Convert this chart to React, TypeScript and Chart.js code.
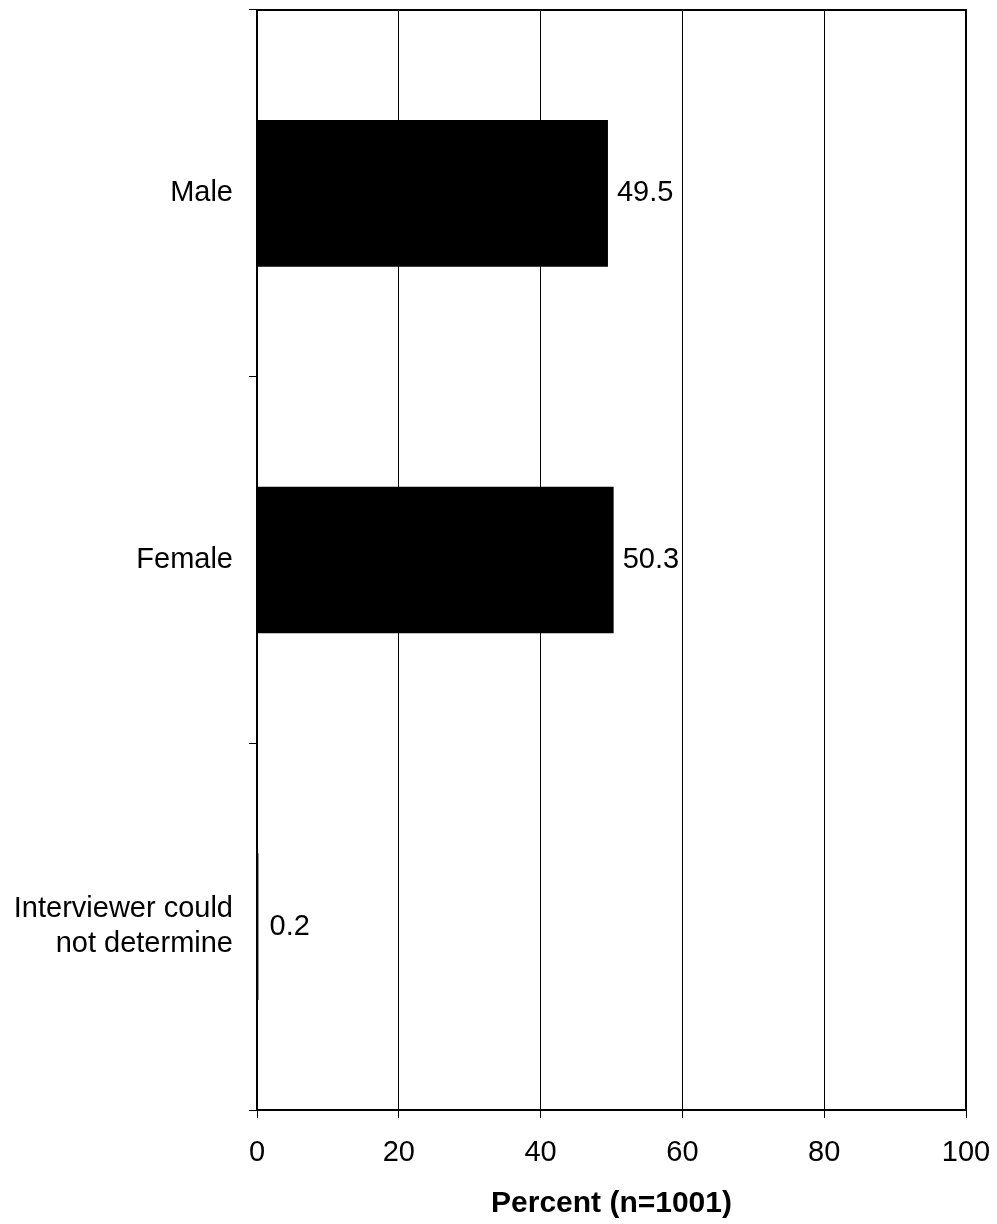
import React, { useEffect, useRef } from "react";
import { Chart, registerables } from "chart.js";

Chart.register(...registerables);

const categories: (string | string[])[] = ["Male", "Female", ["Interviewer could", "not determine"]];
const values: number[] = [49.5, 50.3, 0.2];
const valueLabels: string[] = ["49.5", "50.3", "0.2"];
const xTicks: number[] = [0, 20, 40, 60, 80, 100];
const xTitle = "Percent (n=1001)";

const FONT = "'Liberation Sans', Arial, sans-serif";

export default function App() {
  const ref = useRef<HTMLCanvasElement>(null);
  useEffect(() => {
    document.body.style.margin = "0";
    const canvas = ref.current!;
    const borderPlugin = {
      id: "frame",
      afterDatasetsDraw(chart: any) {
        const { ctx, chartArea: a } = chart;
        ctx.save();
        ctx.strokeStyle = "#000";
        ctx.lineWidth = 2;
        ctx.strokeRect(a.left, a.top, a.right - a.left, a.bottom - a.top);
        ctx.restore();
      },
    };
    const labelPlugin = {
      id: "vals",
      afterDatasetsDraw(chart: any) {
        const { ctx } = chart;
        const meta = chart.getDatasetMeta(0);
        ctx.save();
        ctx.font = `29px ${FONT}`;
        ctx.fillStyle = "#000";
        ctx.textAlign = "left";
        ctx.textBaseline = "middle";
        meta.data.forEach((el: any, i: number) => {
          ctx.fillText(valueLabels[i], Math.max(el.x, el.base + 3) + 9, el.y);
        });
        ctx.restore();
      },
    };
    const chart = new Chart(canvas, {
      type: "bar",
      data: {
        labels: categories as any,
        datasets: [
          {
            data: values,
            backgroundColor: "#000",
            borderWidth: 0,
            barPercentage: 0.4,
            categoryPercentage: 1,
          },
        ],
      },
      options: {
        indexAxis: "y",
        responsive: false,
        animation: false,
        layout: { padding: { top: 10, right: 31, left: 0, bottom: 0 } },
        plugins: { legend: { display: false }, tooltip: { enabled: false } },
        scales: {
          x: {
            min: 0,
            max: 100,
            afterBuildTicks(axis: any) {
              axis.ticks = xTicks.map((v) => ({ value: v }));
            },
            grid: { color: "#000", lineWidth: 1, tickLength: 8 },
            border: { display: false },
            ticks: { color: "#000", font: { family: FONT, size: 29 }, padding: 18 },
            title: {
              display: true,
              text: xTitle,
              color: "#000",
              font: { family: FONT, size: 30, weight: "bold" },
              padding: { top: 8, bottom: 2 },
            },
            afterFit(axis: any) {
              axis.height = 114;
              axis.paddingLeft = 0;
              axis.paddingRight = 0;
            },
          },
          y: {
            grid: { color: "#000", lineWidth: 1, tickLength: 8, drawOnChartArea: false, offset: true },
            border: { display: false },
            ticks: { color: "#000", font: { family: FONT, size: 29 }, padding: 16 },
            afterFit(axis: any) {
              axis.width = 257;
              axis.paddingTop = 0;
              axis.paddingBottom = 0;
            },
          },
        },
      },
      plugins: [borderPlugin, labelPlugin],
    });
    return () => chart.destroy();
  }, []);
  return (
    <div style={{ width: 997, height: 1224, background: "#fff" }}>
      <canvas ref={ref} width={997} height={1224} style={{ display: "block" }} />
    </div>
  );
}
